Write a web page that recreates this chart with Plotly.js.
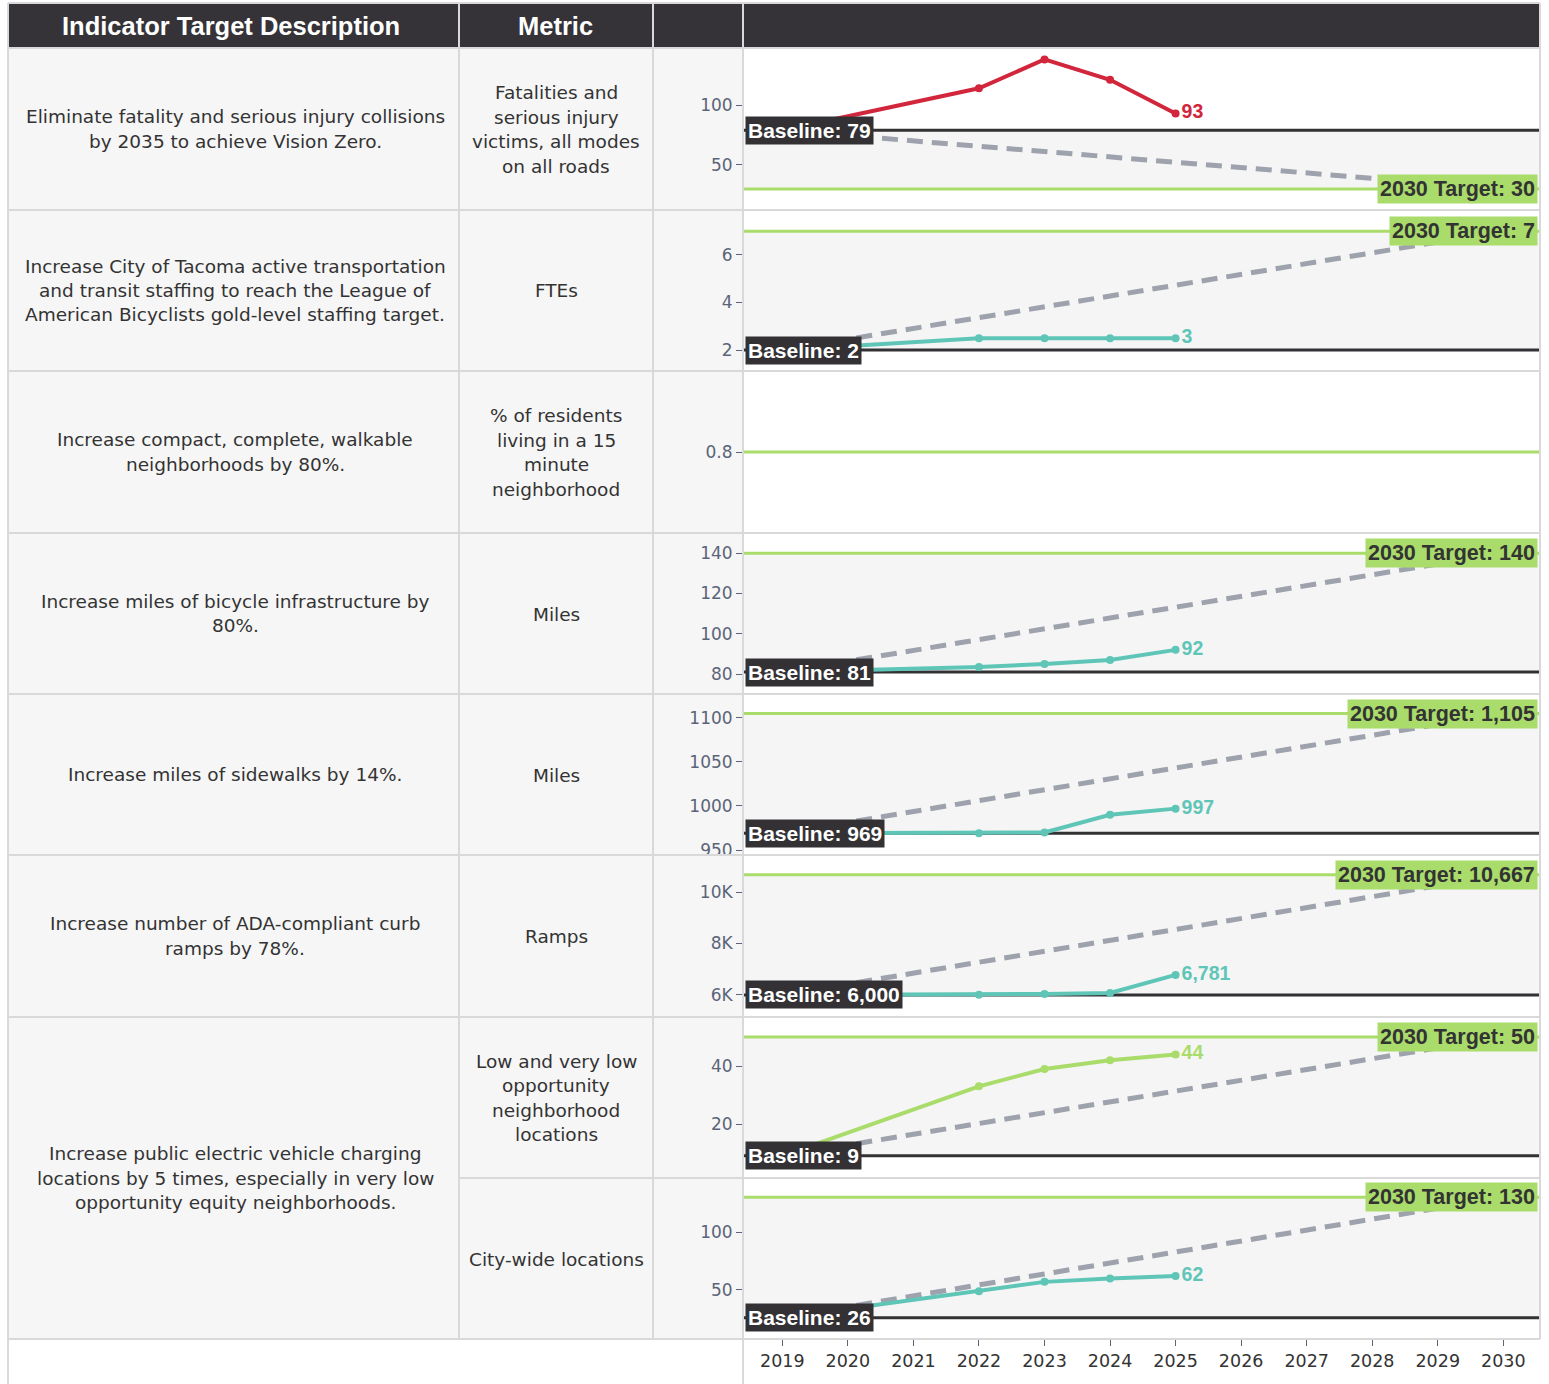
<!DOCTYPE html>
<html>
<head>
<meta charset="utf-8">
<script src="https://cdn.plot.ly/plotly-3.0.1.min.js"></script>
<style>html,body{margin:0;padding:0;background:#fff;}#chart{width:1549px;height:1384px;}</style>
</head>
<body>
<div id="chart"></div>
<script>
// ---------------- DATA ----------------
const headerLabels = ["Indicator Target Description", "Metric"];
const descriptions = [
  ["Eliminate fatality and serious injury collisions", "by 2035 to achieve Vision Zero."],
  ["Increase City of Tacoma active transportation", "and transit staffing to reach the League of", "American Bicyclists gold-level staffing target."],
  ["Increase compact, complete, walkable", "neighborhoods by 80%."],
  ["Increase miles of bicycle infrastructure by", "80%."],
  ["Increase miles of sidewalks by 14%."],
  ["Increase number of ADA-compliant curb", "ramps by 78%."],
  ["Increase public electric vehicle charging", "locations by 5 times, especially in very low", "opportunity equity neighborhoods."]
];
const metrics = [
  ["Fatalities and", "serious injury", "victims, all modes", "on all roads"],
  ["FTEs"],
  ["% of residents", "living in a 15", "minute", "neighborhood"],
  ["Miles"],
  ["Miles"],
  ["Ramps"],
  ["Low and very low", "opportunity", "neighborhood", "locations"],
  ["City-wide locations"]
];
const years = [2019, 2022, 2023, 2024, 2025];
const axisYears = [2019, 2020, 2021, 2022, 2023, 2024, 2025, 2026, 2027, 2028, 2029, 2030];
const trajectoryYears = [2019, 2030];
const fatalities = [79, 114, 138, 121, 93];
const ftes = [2, 2.5, 2.5, 2.5, 2.5];
const bikeMiles = [81, 83.5, 85, 87, 92];
const sidewalkMiles = [969, 969, 970, 990, 997];
const curbRamps = [6000, 6010, 6040, 6080, 6781];
const evLowOpportunity = [9, 33, 39, 42, 44];
const evCityWide = [26, 49, 57, 60, 62];
const baselines = [79, 2, null, 81, 969, 6000, 9, 26];
const targets = [30, 7, 0.8, 140, 1105, 10667, 50, 130];
const rowSeries = [fatalities, ftes, null, bikeMiles, sidewalkMiles, curbRamps, evLowOpportunity, evCityWide];
const yTickVals = [[50, 100], [2, 4, 6], [0.8], [80, 100, 120, 140], [950, 1000, 1050, 1100], [6000, 8000, 10000], [20, 40], [50, 100]];
const yTickText = [["50", "100"], ["2", "4", "6"], ["0.8"], ["80", "100", "120", "140"], ["950", "1000", "1050", "1100"], ["6K", "8K", "10K"], ["20", "40"], ["50", "100"]];

// ---------------- STYLE / LAYOUT ----------------
const W = 1549, H = 1384;
const px = x => x / W;
const py = y => 1 - y / H;
const FONT = "Liberation Sans, Arial, sans-serif";
const BODY = "DejaVu Sans, Verdana, sans-serif";
const rowEdges = [48, 210, 371, 533, 694, 855, 1017, 1178, 1339];
const yRanges = [[13.3, 146.7], [1.16, 7.85], [0.6, 1.0], [70.6, 149.5], [945.5, 1126], [5184, 11398], [1.7, 56.6], [8.6, 145.7]];
const lineColors = ["#d1263b", "#5fc6b7", null, "#5fc6b7", "#5fc6b7", "#5fc6b7", "#a9dc6a", "#5fc6b7"];
const GREEN = "#a9dc6a", DARK = "#333134", DASH = "#9ea2ad", GRID = "#d9d9d9", CELL = "#f6f6f6", BAND = "#f5f5f5";
const TICK = "#5b6478";
const CH_L = 743, CH_R = 1540;
const LINE_H = 24.4;

const fmt = v => Math.round(v).toLocaleString("en-US");
const axName = i => i === 0 ? "y" : "y" + (i + 1);
const axKey = i => i === 0 ? "yaxis" : "yaxis" + (i + 1);

const traces = [];
const shapes = [];
const annotations = [];

function textBlock(lines, xc, yc, font) {
  const n = lines.length;
  lines.forEach((ln, k) => {
    const y = yc + (k - (n - 1) / 2) * LINE_H;
    annotations.push({xref: "paper", yref: "paper", x: px(xc), y: py(y), xanchor: "center", yanchor: "middle", text: ln, showarrow: false, font: font});
  });
}

// table backgrounds
shapes.push({type: "rect", xref: "paper", yref: "paper", x0: px(8), x1: px(CH_L), y0: py(rowEdges[8]), y1: py(rowEdges[0]), fillcolor: CELL, line: {width: 0}, layer: "below"});
shapes.push({type: "rect", xref: "paper", yref: "paper", x0: px(8), x1: px(CH_R), y0: py(rowEdges[0]), y1: py(4), fillcolor: "#353337", line: {width: 0}, layer: "below"});

const layout = {
  width: W, height: H,
  margin: {l: 0, r: 0, t: 0, b: 0},
  paper_bgcolor: "#ffffff",
  plot_bgcolor: "rgba(0,0,0,0)",
  showlegend: false,
  font: {family: FONT, color: "#333333"},
  xaxis: {
    domain: [px(CH_L), px(CH_R)], range: [2018.4, 2030.56], anchor: "y8",
    tickvals: axisYears, ticktext: axisYears.map(String),
    ticks: "outside", ticklen: 7, tickcolor: TICK, tickwidth: 1,
    tickfont: {family: BODY, size: 17.5, color: "#333333"},
    showgrid: false, zeroline: false, showline: false, fixedrange: true
  }
};

const bodyFont = {family: BODY, size: 18.5, color: "#333333"};

for (let i = 0; i < 8; i++) {
  const top = rowEdges[i] + 1, bot = rowEdges[i + 1] - 1;
  layout[axKey(i)] = {
    domain: [py(bot), py(top)], range: yRanges[i], anchor: "x",
    tickvals: yTickVals[i], ticktext: yTickText[i],
    ticks: "outside", ticklen: 6, tickcolor: TICK, tickwidth: 1,
    tickfont: {family: BODY, size: 17, color: TICK},
    showgrid: false, zeroline: false, showline: false, fixedrange: true
  };
  const ya = axName(i);
  const b = baselines[i], t = targets[i];
  if (b !== null) {
    shapes.push({type: "rect", xref: "paper", yref: ya, x0: px(CH_L), x1: px(CH_R), y0: Math.min(b, t), y1: Math.max(b, t), fillcolor: BAND, line: {width: 0}, layer: "below"});
    shapes.push({type: "line", xref: "paper", yref: ya, x0: px(CH_L), x1: px(CH_R), y0: b, y1: b, line: {color: DARK, width: 3}, layer: "below"});
  }
  shapes.push({type: "line", xref: "paper", yref: ya, x0: px(CH_L), x1: px(CH_R), y0: t, y1: t, line: {color: GREEN, width: 3}, layer: "below"});

  if (b !== null) {
    traces.push({x: trajectoryYears, y: [b, t], yaxis: ya, xaxis: "x", mode: "lines", line: {color: DASH, width: 5, dash: "16px,9px"}, hoverinfo: "skip"});
  }
  const s = rowSeries[i];
  if (s) {
    traces.push({
      x: years, y: s, yaxis: ya, xaxis: "x", mode: "lines+markers+text",
      line: {color: lineColors[i], width: 4}, marker: {color: lineColors[i], size: 8},
      text: s.map((v, k) => k === s.length - 1 ? fmt(v) : ""),
      textposition: "middle right",
      textfont: {family: FONT, size: 19.5, color: lineColors[i], weight: "bold"},
      cliponaxis: false, hoverinfo: "skip"
    });
  }
  if (b !== null) {
    annotations.push({xref: "paper", yref: ya, x: px(745), y: b, xanchor: "left", yanchor: "middle", text: "Baseline: " + fmt(b), showarrow: false, bgcolor: DARK, borderpad: 2, font: {family: FONT, size: 21, color: "#ffffff", weight: "bold"}});
    annotations.push({xref: "paper", yref: ya, x: px(1538), y: t, xanchor: "right", yanchor: "middle", text: "2030 Target: " + fmt(t), showarrow: false, bgcolor: GREEN, borderpad: 2, font: {family: FONT, size: 21.5, color: "#333333", weight: "bold"}});
  }
  textBlock(metrics[i], 556, (rowEdges[i] + rowEdges[i + 1]) / 2 + 0.5, bodyFont);
}

// descriptions (last one spans two rows)
for (let i = 0; i < descriptions.length; i++) {
  const yc = i < 6 ? (rowEdges[i] + rowEdges[i + 1]) / 2 : (rowEdges[6] + rowEdges[8]) / 2;
  textBlock(descriptions[i], 235, yc, bodyFont);
}
// header
annotations.push({xref: "paper", yref: "paper", x: px(231), y: py(26), xanchor: "center", yanchor: "middle", text: headerLabels[0], showarrow: false, font: {family: FONT, size: 25.5, color: "#ffffff", weight: "bold"}});
annotations.push({xref: "paper", yref: "paper", x: px(555), y: py(26), xanchor: "center", yanchor: "middle", text: headerLabels[1], showarrow: false, font: {family: FONT, size: 25.5, color: "#ffffff", weight: "bold"}});

// grid lines
for (let i = 0; i < rowEdges.length; i++) {
  const xStart = i === 7 ? 459 : 8;
  shapes.push({type: "line", xref: "paper", yref: "paper", x0: px(xStart), x1: px(CH_R), y0: py(rowEdges[i]), y1: py(rowEdges[i]), line: {color: GRID, width: 2}, layer: "above"});
}
shapes.push({type: "line", xref: "paper", yref: "paper", x0: px(8), x1: px(CH_R), y0: py(3), y1: py(3), line: {color: GRID, width: 2}});
[[8, 1384], [459, 1339], [653, 1339], [743, 1384], [1540, 1339]].forEach(([x, yb]) => {
  shapes.push({type: "line", xref: "paper", yref: "paper", x0: px(x), x1: px(x), y0: py(yb), y1: py(3), line: {color: GRID, width: 2}});
});

Plotly.newPlot("chart", traces, Object.assign(layout, {shapes: shapes, annotations: annotations}), {displayModeBar: false, staticPlot: true});
</script>
</body>
</html>
